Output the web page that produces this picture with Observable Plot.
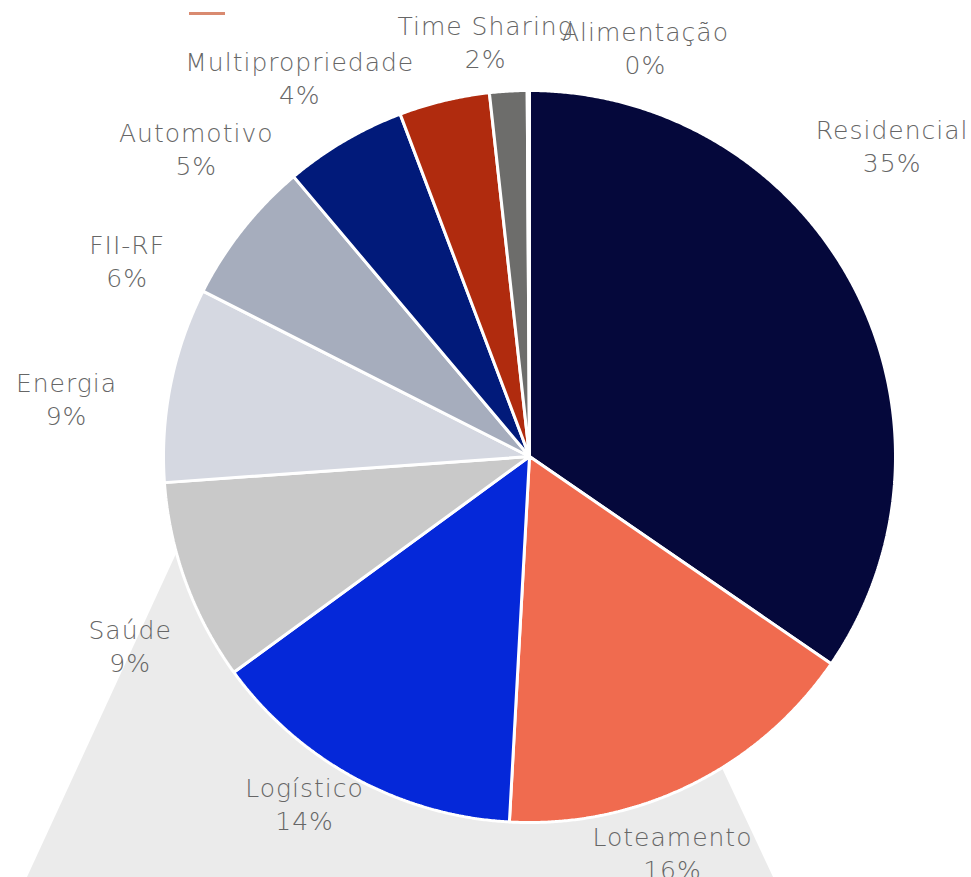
<!DOCTYPE html>
<html>
<head>
<meta charset="utf-8">
<script src="https://cdn.jsdelivr.net/npm/d3@7"></script>
<script src="https://cdn.jsdelivr.net/npm/@observablehq/plot@0.6"></script>
<style>
  html, body { margin: 0; padding: 0; background: #ffffff; }
  #wrap { position: relative; width: 971px; height: 877px; overflow: hidden; }
  #backdrop { position: absolute; left: 0; top: 0; width: 971px; height: 877px; background: #ebebeb;
    clip-path: polygon(27px 877px, 773px 877px, 576px 456px, 221px 456px); }
  #dash { position: absolute; left: 189px; top: 12px; width: 36px; height: 3px; background: #d98a70; }
  #chart { position: absolute; left: 0; top: 0; }
  #chart svg text { letter-spacing: 1px; }
</style>
</head>
<body>
<div id="wrap">
  <div id="backdrop"></div>
  <div id="dash"></div>
  <div id="chart"></div>
</div>
<script>
// ---- data ----
const categories = ["Residencial", "Loteamento", "Logístico", "Saúde", "Energia", "FII-RF", "Automotivo", "Multipropriedade", "Time Sharing", "Alimentação"];
const values = [34.6, 16.3, 14.1, 8.9, 8.6, 6.4, 5.4, 4.0, 1.65, 0.1];
const colors = ["#05083b", "#f06b4f", "#0528d9", "#c9c9c9", "#d5d8e1", "#a6adbd", "#011a7a", "#b02b0e", "#6d6d6b", "#a0a0a0"];
// label layout (angular shift from slice mid-angle in degrees, radial distance in radii)
const labelShift = [-12.9, 6.3, 4.5, -5.2, -4.2, -12.3, -16.8, -17.7, -2.7, 16.0];
const labelDistance = [1.306, 1.149, 1.128, 1.207, 1.275, 1.224, 1.241, 1.212, 1.143, 1.162];

const total = d3.sum(values);
const arcs = d3.pie().sort(null).value(d => d)(values);

const slicePts = [];
arcs.forEach((a, i) => {
  const cat = categories[i];
  slicePts.push({cat, x: 0, y: 0});
  const n = Math.max(2, Math.ceil((a.endAngle - a.startAngle) / 0.005));
  for (let k = 0; k <= n; k++) {
    const ang = a.startAngle + (a.endAngle - a.startAngle) * k / n;
    slicePts.push({cat, x: Math.sin(ang), y: Math.cos(ang)});
  }
  slicePts.push({cat, x: 0, y: 0});
});

const labels = arcs.map((a, i) => {
  const mid = (a.startAngle + a.endAngle) / 2 + labelShift[i] * Math.PI / 180;
  const r = labelDistance[i];
  return {
    cat: categories[i],
    x: r * Math.sin(mid),
    y: r * Math.cos(mid),
    text: categories[i] + "\n" + Math.round(values[i] / total * 100) + "%"
  };
});

const chart = Plot.plot({
  width: 971,
  height: 877,
  marginLeft: 163,
  marginRight: 76,
  marginTop: 90,
  marginBottom: 55,
  style: {background: "transparent", overflow: "visible"},
  x: {domain: [-1, 1], axis: null},
  y: {domain: [-1, 1], axis: null},
  color: {domain: categories, range: colors},
  marks: [
    Plot.line(slicePts, {x: "x", y: "y", z: "cat", fill: "cat", stroke: "#ffffff", strokeWidth: 3, strokeLinejoin: "miter", curve: "linear"}),
    Plot.text(labels, {x: "x", y: "y", text: "text", fill: "#666666", fontSize: 25, fontFamily: "DejaVu Sans", fontWeight: 200, lineHeight: 1.32, lineAnchor: "middle", textAnchor: "middle"})
  ]
});
document.getElementById("chart").appendChild(chart);
</script>
</body>
</html>
